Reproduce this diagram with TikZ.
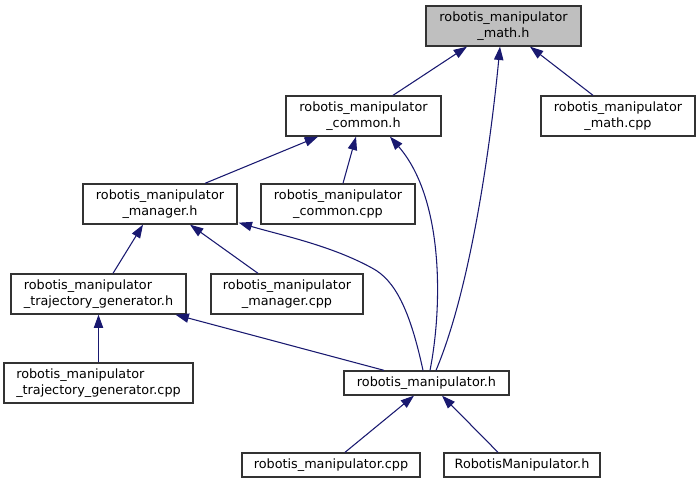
\documentclass[tikz,border=0pt]{standalone}
\usepackage{fontspec}
\setmainfont{DejaVu Sans}
\usetikzlibrary{arrows.meta,calc}
\definecolor{edgeblue}{HTML}{191970}
\definecolor{boxgray}{HTML}{BFBFBF}
\definecolor{boxline}{HTML}{333333}
\begin{document}
\begin{tikzpicture}[x=0.75pt,y=-0.75pt,
  box/.style={draw=boxline, line width=1pt, inner sep=0pt, minimum height=30pt,
    font=\fontsize{9.6}{11.6}\selectfont, align=center},
  onebox/.style={box, minimum height=18pt},
  lbox/.style={box, align=left},
  edge/.style={draw=edgeblue, line width=0.8pt, -{Triangle[length=10pt,width=7pt]}}]
\useasboundingbox (0,0) rectangle (700,484);
% nodes
\node[box, fill=boxgray, minimum width=116.25pt] (math) at (503.5,26) {robotis\_manipulator\\\_math.h};
\node[box, minimum width=116.25pt] (common) at (363.5,116) {robotis\_manipulator\\\_common.h};
\node[box, minimum width=115.5pt] (mathcpp) at (618,116) {robotis\_manipulator\\\_math.cpp};
\node[box, minimum width=115.5pt] (manager) at (160,204) {robotis\_manipulator\\\_manager.h};
\node[box, minimum width=115.5pt] (commoncpp) at (338,204) {robotis\_manipulator\\\_common.cpp};
\node[lbox, minimum width=131.25pt] (traj) at (98.5,294) {robotis\_manipulator\\\_trajectory\_generator.h};
\node[box, minimum width=114pt] (managercpp) at (287,294) {robotis\_manipulator\\\_manager.cpp};
\node[lbox, minimum width=141.75pt] (trajcpp) at (98.5,383) {robotis\_manipulator\\\_trajectory\_generator.cpp};
\node[onebox, minimum width=123.75pt] (rm) at (426.5,383) {robotis\_manipulator.h};
\node[onebox, minimum width=133.5pt] (rmcpp) at (331,465) {robotis\_manipulator.cpp};
\node[onebox, minimum width=117pt] (RM) at (522,465) {RobotisManipulator.h};
% edges
\draw[edge] ($(common.north)+(29.5,0)$) -- ($(math.south)+(-36.5,0)$);
\draw[edge] ($(mathcpp.north)+(-25,0)$) -- ($(math.south)+(26.5,0)$);
\draw[edge] ($(rm.north)+(9.5,0)$) .. controls (470,290) and (490,150) .. ($(math.south)+(-3.5,0)$);
\draw[edge] ($(manager.north)+(45,0)$) -- ($(common.south)+(-45.5,0)$);
\draw[edge] ($(commoncpp.north)+(5,0)$) -- ($(common.south)+(-7.5,0)$);
\draw[edge] ($(rm.north)+(3.5,0)$) .. controls (442,310) and (445,200) .. ($(common.south)+(26.5,0)$);
\draw[edge] ($(rm.north)+(-3.5,0)$) .. controls (410,310) and (395,280) .. (372,268) coordinate (mgrmid)
  .. controls (330,245) and (280,235) .. ($(manager.south east)+(1,-2)$);
\draw[edge] ($(traj.north)+(14.5,0)$) -- ($(manager.south)+(-17,0)$);
\draw[edge] ($(managercpp.north)+(-29,0)$) -- ($(manager.south)+(30,0)$);
\draw[edge] (trajcpp.north) -- (trajcpp.north |- traj.south);
\draw[edge] ($(rm.north)+(-42.5,0)$) -- ($(traj.south)+(77,0)$);
\draw[edge] ($(rmcpp.north)+(14,0)$) -- ($(rm.south)+(-12.5,0)$);
\draw[edge] ($(RM.north)+(-24,0)$) -- ($(rm.south)+(15.5,0)$);
\end{tikzpicture}
\end{document}
